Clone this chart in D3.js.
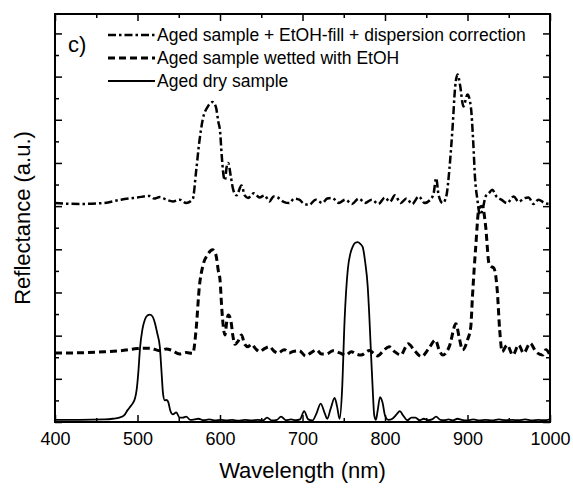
<!DOCTYPE html>
<html>
<head>
<meta charset="utf-8">
<script src="https://cdn.jsdelivr.net/npm/d3@7"></script>
<style>
body { margin: 0; background: #fff; }
svg { display: block; font-family: "Liberation Sans", Arial, sans-serif; }
</style>
</head>
<body>
<svg id="chart" width="573" height="488"></svg>
<script>
// wavelength (nm) / reflectance (a.u.) pairs
var dryCurve = [[400,0.1],[430,0.1],[460,0.12],[470,0.15],[478,0.2],[484,0.32],[488,0.55],[491,0.7],[494,0.85],[497,1.1],[499,1.5],[501,2.3],[503,3.4],[506,4.3],[509,4.75],[512,4.93],[515,4.97],[518,4.9],[521,4.6],[524,4.1],[527,3.5],[529,2.4],[531,1.3],[533,1.0],[535,1.02],[537,0.95],[540,0.5],[543,0.35],[547,0.45],[551,0.2],[555,0.2],[559,0.25],[564,0.1],[569,0.12],[574,0.15],[580,0.08],[587,0.12],[594,0.07],[601,0.1],[608,0.07],[615,0.1],[622,0.06],[630,0.1],[638,0.07],[646,0.1],[652,0.07],[657,0.2],[663,0.07],[669,0.1],[674,0.25],[680,0.08],[686,0.12],[692,0.08],[697,0.12],[702,0.5],[707,0.12],[712,0.07],[717,0.4],[722,0.85],[727,0.4],[730,0.15],[734,0.6],[739,1.12],[742,0.7],[745,0.15],[748,1.5],[751,4.7],[755,7.1],[758,7.8],[761,8.13],[764,8.3],[767,8.33],[770,8.25],[773,8.1],[776,7.4],[779,6.3],[781,4.9],[783,3.2],[785,1.6],[787,0.3],[789,0.1],[791,0.5],[794,1.15],[797,0.9],[800,0.3],[804,0.1],[809,0.15],[814,0.35],[818,0.5],[822,0.3],[827,0.08],[832,0.2],[837,0.2],[842,0.08],[847,0.15],[852,0.08],[857,0.12],[862,0.25],[867,0.1],[872,0.08],[877,0.12],[882,0.07],[888,0.15],[893,0.1],[900,0.07],[907,0.12],[914,0.07],[922,0.1],[930,0.07],[938,0.12],[946,0.08],[954,0.1],[962,0.08],[970,0.12],[978,0.07],[986,0.1],[993,0.08],[1000,0.12]];

var wetCurve = [[400,3.2],[420,3.2],[440,3.22],[460,3.25],[480,3.3],[500,3.4],[515,3.42],[527,3.3],[535,3.38],[541,3.33],[551,3.15],[559,3.22],[567,3.18],[571,4.27],[575,6.28],[579,7.2],[585,7.75],[591,7.98],[595,7.75],[598,7.0],[600,6.6],[602,5.35],[604,4.42],[606,4.03],[608,4.6],[610,4.96],[613,4.73],[616,3.9],[618,3.6],[622,3.75],[626,4.03],[630,3.6],[634,3.49],[638,3.6],[643,3.4],[648,3.26],[654,3.4],[660,3.49],[665,3.3],[670,3.19],[678,3.35],[684,3.2],[688,3.26],[696,3.3],[704,3.06],[710,3.2],[717,3.34],[723,3.15],[729,3.15],[737,3.3],[745,3.2],[753,3.1],[759,3.26],[765,3.15],[771,3.1],[781,3.31],[791,3.06],[798,3.3],[805,3.49],[812,3.25],[819,3.1],[828,3.62],[836,3.3],[844,3.03],[853,3.4],[861,3.8],[866,3.3],[870,3.1],[878,3.5],[886,4.55],[890,3.9],[894,3.34],[900,3.8],[904,4.42],[906,5.81],[910,8.13],[914,9.91],[918,10.0],[922,9.06],[926,7.36],[929,7.2],[932,7.13],[936,6.12],[939,4.27],[942,3.26],[948,3.57],[955,3.1],[962,3.57],[968,3.19],[976,3.65],[983,3.25],[991,3.1],[995,3.35],[1000,3.1]];

var fillCurve = [[400,10.14],[430,10.1],[460,10.15],[480,10.3],[500,10.4],[515,10.47],[520,10.35],[527,10.42],[535,10.3],[543,10.22],[551,10.3],[559,10.14],[567,10.33],[571,11.6],[575,13.0],[579,14.0],[585,14.6],[591,14.82],[595,14.6],[598,13.9],[600,13.5],[602,12.4],[604,11.5],[606,11.2],[608,11.8],[610,12.0],[613,11.4],[616,10.76],[620,10.5],[626,10.95],[630,10.5],[634,10.38],[641,10.6],[648,10.4],[654,10.5],[660,10.22],[665,10.45],[670,10.4],[677,10.2],[684,10.14],[690,10.35],[696,10.3],[702,10.1],[708,10.06],[716,10.3],[724,10.15],[730,10.35],[736,10.38],[744,10.15],[752,10.3],[760,10.1],[768,10.35],[776,10.15],[784,10.3],[792,10.1],[800,10.4],[806,10.2],[812,10.5],[819,10.15],[826,10.35],[833,10.1],[841,10.45],[848,10.15],[855,10.3],[859,10.6],[862,11.3],[865,10.5],[870,10.14],[873,10.3],[875,10.6],[878,11.69],[882,13.7],[885,15.5],[888,16.1],[891,15.6],[895,14.62],[900,15.17],[904,14.62],[907,12.93],[909,11.38],[912,10.3],[915,9.6],[918,9.8],[922,10.45],[926,10.6],[930,10.76],[935,10.45],[941,10.3],[948,10.14],[956,10.45],[962,10.2],[968,10.35],[974,10.4],[980,10.1],[986,10.3],[993,10.15],[1000,10.1]];

var xMajor = [400, 500, 600, 700, 800, 900, 1000];
var xMinor = [450, 550, 650, 750, 850, 950];
var yMajor = [0, 2, 4, 6, 8, 10, 12, 14, 16, 18];
var yMinor = [1, 3, 5, 7, 9, 11, 13, 15, 17];

var legendLabels = ["Aged sample + EtOH-fill + dispersion correction",
                    "Aged sample wetted with EtOH",
                    "Aged dry sample"];

// plot frame (window.top is reserved, hence the prefixed names)
var plotLeft = 55, plotRight = 550, plotTop = 14, plotBottom = 422;

var svg = d3.select("#chart");
var x = d3.scaleLinear().domain([400, 1000]).range([plotLeft, plotRight]);
var y = d3.scaleLinear().domain([0, 18.9]).range([plotBottom, plotTop]);

// axes, ticks pointing inward on all four sides
function styleAxis(g){
	g.select(".domain").remove();
	g.selectAll(".tick line").attr("stroke", "#000").attr("stroke-width", 1.5);
}

function addAxis(axis, tx, ty){
	return svg.append("g")
		.attr("transform", "translate(" + tx + "," + ty + ")")
		.call(axis)
		.call(styleAxis);
}

addAxis(d3.axisBottom(x).tickValues(xMajor).tickSize(-7).tickPadding(10).tickFormat(d3.format("d")), 0, plotBottom)
	.selectAll("text")
	.attr("font-size", 18).attr("fill", "#000")
	.attr("font-family", "Liberation Sans, Arial, sans-serif");
addAxis(d3.axisBottom(x).tickValues(xMinor).tickSize(-4).tickFormat(""), 0, plotBottom);
addAxis(d3.axisTop(x).tickValues(xMajor).tickSize(-7).tickFormat(""), 0, plotTop);
addAxis(d3.axisTop(x).tickValues(xMinor).tickSize(-4).tickFormat(""), 0, plotTop);
addAxis(d3.axisLeft(y).tickValues(yMajor).tickSize(-7).tickFormat(""), plotLeft, 0);
addAxis(d3.axisLeft(y).tickValues(yMinor).tickSize(-4).tickFormat(""), plotLeft, 0);
addAxis(d3.axisRight(y).tickValues(yMajor).tickSize(-7).tickFormat(""), plotRight, 0);
addAxis(d3.axisRight(y).tickValues(yMinor).tickSize(-4).tickFormat(""), plotRight, 0);

svg.append("rect")
	.attr("x", plotLeft).attr("y", plotTop)
	.attr("width", plotRight - plotLeft).attr("height", plotBottom - plotTop)
	.attr("fill", "none").attr("stroke", "#000").attr("stroke-width", 2);

var line = d3.line()
	.x(function(d){ return x(d[0]); })
	.y(function(d){ return y(d[1]); })
	.curve(d3.curveMonotoneX);

var series = [
	{ data: fillCurve, width: 2.5, dash: "8,3,2.5,3" },
	{ data: wetCurve, width: 3, dash: "7,4" },
	{ data: dryCurve, width: 1.8, dash: null }
];

series.forEach(function(s){
	svg.append("path")
		.attr("d", line(s.data))
		.attr("fill", "none")
		.attr("stroke", "#000")
		.attr("stroke-width", s.width)
		.attr("stroke-dasharray", s.dash);
});

// legend
var legend = svg.append("g");
series.forEach(function(s, i){
	var ly = 35 + i * 23;
	legend.append("line")
		.attr("x1", 108).attr("x2", 155)
		.attr("y1", ly).attr("y2", ly)
		.attr("stroke", "#000")
		.attr("stroke-width", s.width)
		.attr("stroke-dasharray", s.dash);
	legend.append("text")
		.attr("x", 157).attr("y", ly).attr("dy", "0.36em")
		.attr("font-size", 17.5)
		.text(legendLabels[i]);
});

svg.append("text").attr("x", 68).attr("y", 52).attr("font-size", 22).text("c)");

svg.append("text")
	.attr("x", (plotLeft + plotRight) / 2).attr("y", 478)
	.attr("text-anchor", "middle").attr("font-size", 22)
	.text("Wavelength (nm)");

svg.append("text")
	.attr("transform", "translate(30," + (plotTop + plotBottom) / 2 + ") rotate(-90)")
	.attr("text-anchor", "middle").attr("font-size", 22)
	.text("Reflectance (a.u.)");
</script>
</body>
</html>
